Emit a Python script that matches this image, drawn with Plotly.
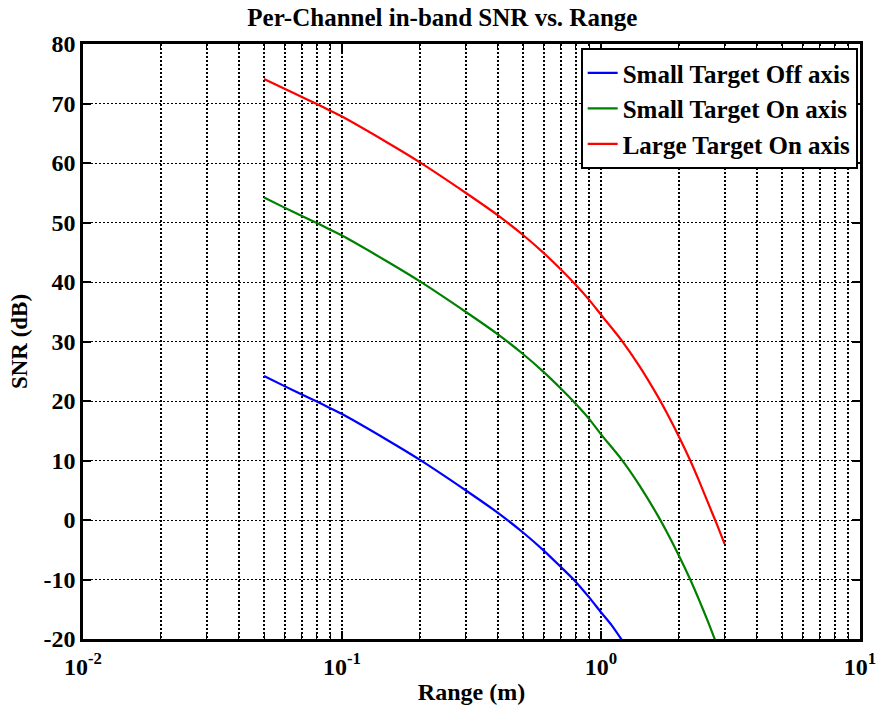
import plotly.graph_objects as go

# Data
range_red = [0.05, 0.06, 0.07, 0.08, 0.09, 0.1, 0.15, 0.2, 0.3, 0.4, 0.5, 0.6, 0.7, 0.8, 0.9, 1.0, 1.2, 1.4, 1.66, 1.8, 2.0, 2.2, 2.4, 2.6, 2.8, 3.0]
snr_red = [74.1, 72.5, 71.1, 69.9, 68.8, 67.8, 63.4, 60.1, 55.0, 51.2, 47.9, 44.9, 42.1, 39.5, 37.0, 34.5, 30.2, 26.0, 20.7, 17.9, 14.0, 10.2, 6.4, 2.7, -0.7, -4.0]

range_green = [0.05, 0.06, 0.07, 0.08, 0.09, 0.1, 0.15, 0.2, 0.3, 0.4, 0.5, 0.6, 0.7, 0.8, 0.9, 1.0, 1.2, 1.4, 1.66, 1.8, 2.0, 2.2, 2.4, 2.6, 2.78]
snr_green = [54.2, 52.5, 51.1, 49.9, 48.8, 47.8, 43.4, 40.1, 35.0, 31.2, 27.9, 24.9, 22.1, 19.5, 17.0, 14.4, 10.2, 6.0, 0.7, -2.1, -6.0, -9.8, -13.6, -17.3, -20.6]

range_blue = [0.05, 0.06, 0.07, 0.08, 0.09, 0.1, 0.15, 0.2, 0.3, 0.4, 0.5, 0.6, 0.7, 0.8, 0.9, 1.0, 1.1, 1.21]
snr_blue = [24.2, 22.5, 21.1, 19.9, 18.8, 17.8, 13.4, 10.1, 5.0, 1.2, -2.1, -5.1, -7.9, -10.4, -13.0, -15.5, -17.7, -20.3]

names = ["Small Target Off axis", "Small Target On axis", "Large Target On axis"]
colors = ["#0000FF", "#008000", "#FF0000"]

x_tickvals = [0.01, 0.1, 1, 10]
x_ticktext = ["10<sup>-2</sup>", "10<sup>-1</sup>", "10<sup>0</sup>", "10<sup>1</sup>"]
y_tickvals = [-20, -10, 0, 10, 20, 30, 40, 50, 60, 70, 80]
y_ticktext = ["-20", "-10", "0", "10", "20", "30", "40", "50", "60", "70", "80"]

minor_vals = [m * 10 ** k for k in (-2, -1, 0) for m in range(2, 10)]

FONT = "Liberation Serif"
FS = 24

fig = go.Figure()
for xs, ys, nm, c in [(range_blue, snr_blue, names[0], colors[0]),
                      (range_green, snr_green, names[1], colors[1]),
                      (range_red, snr_red, names[2], colors[2])]:
    fig.add_trace(go.Scatter(x=xs, y=ys, mode="lines", name=nm,
                             line=dict(color=c, width=2.2, shape="spline", smoothing=0.7)))

fig.update_layout(
    width=876, height=705,
    margin=dict(l=83, r=16, t=44, b=66, autoexpand=False),
    paper_bgcolor="white", plot_bgcolor="white",
    font=dict(family=FONT, size=FS, color="black", weight="bold"),
    title=dict(text="Per-Channel in-band SNR vs. Range", xref="container", x=0.505, xanchor="center",
               yref="container", y=0.976, yanchor="middle",
               font=dict(family=FONT, size=25, color="black", weight="bold")),
    showlegend=True,
    legend=dict(x=0.997, y=0.993, xanchor="right", yanchor="top",
                bgcolor="white", bordercolor="black", borderwidth=2,
                font=dict(family=FONT, size=25, color="black", weight="bold"),
                tracegroupgap=0, itemwidth=30),
)

fig.update_xaxes(
    type="log", range=[-2, 1], automargin=False,
    tickmode="array", tickvals=x_tickvals, ticktext=x_ticktext,
    ticks="inside", ticklen=8, tickwidth=1.5, tickcolor="black",
    ticklabelstandoff=4, ticklabeloverflow="allow",
    showline=True, linecolor="black", linewidth=2.5, mirror="ticks",
    showgrid=True, gridcolor="black", gridwidth=1.5, griddash="2px,2px",
    minor=dict(tickmode="array", tickvals=minor_vals, ticks="inside", ticklen=5,
               tickcolor="black", tickwidth=1,
               showgrid=True, gridcolor="black", gridwidth=1.5, griddash="2px,2px"),
    zeroline=False,
    tickfont=dict(family=FONT, size=FS, color="black", weight="bold"),
    title=dict(text="Range (m)", standoff=6,
               font=dict(family=FONT, size=FS, color="black", weight="bold")),
)

fig.update_yaxes(
    range=[-20, 80], automargin=False,
    tickmode="array", tickvals=y_tickvals, ticktext=y_ticktext,
    ticks="inside", ticklen=8, tickwidth=1.5, tickcolor="black",
    ticklabeloverflow="allow",
    showline=True, linecolor="black", linewidth=2.5, mirror="ticks",
    showgrid=True, gridcolor="black", gridwidth=1, griddash="2px,2px",
    zeroline=False,
    tickfont=dict(family=FONT, size=FS, color="black", weight="bold"),
    title=dict(text="SNR (dB)", standoff=10,
               font=dict(family=FONT, size=FS - 1, color="black", weight="bold")),
)

fig.write_html("out.html", config={"displayModeBar": False},
               post_script="document.body.style.margin='0';document.body.style.overflow='hidden';")
